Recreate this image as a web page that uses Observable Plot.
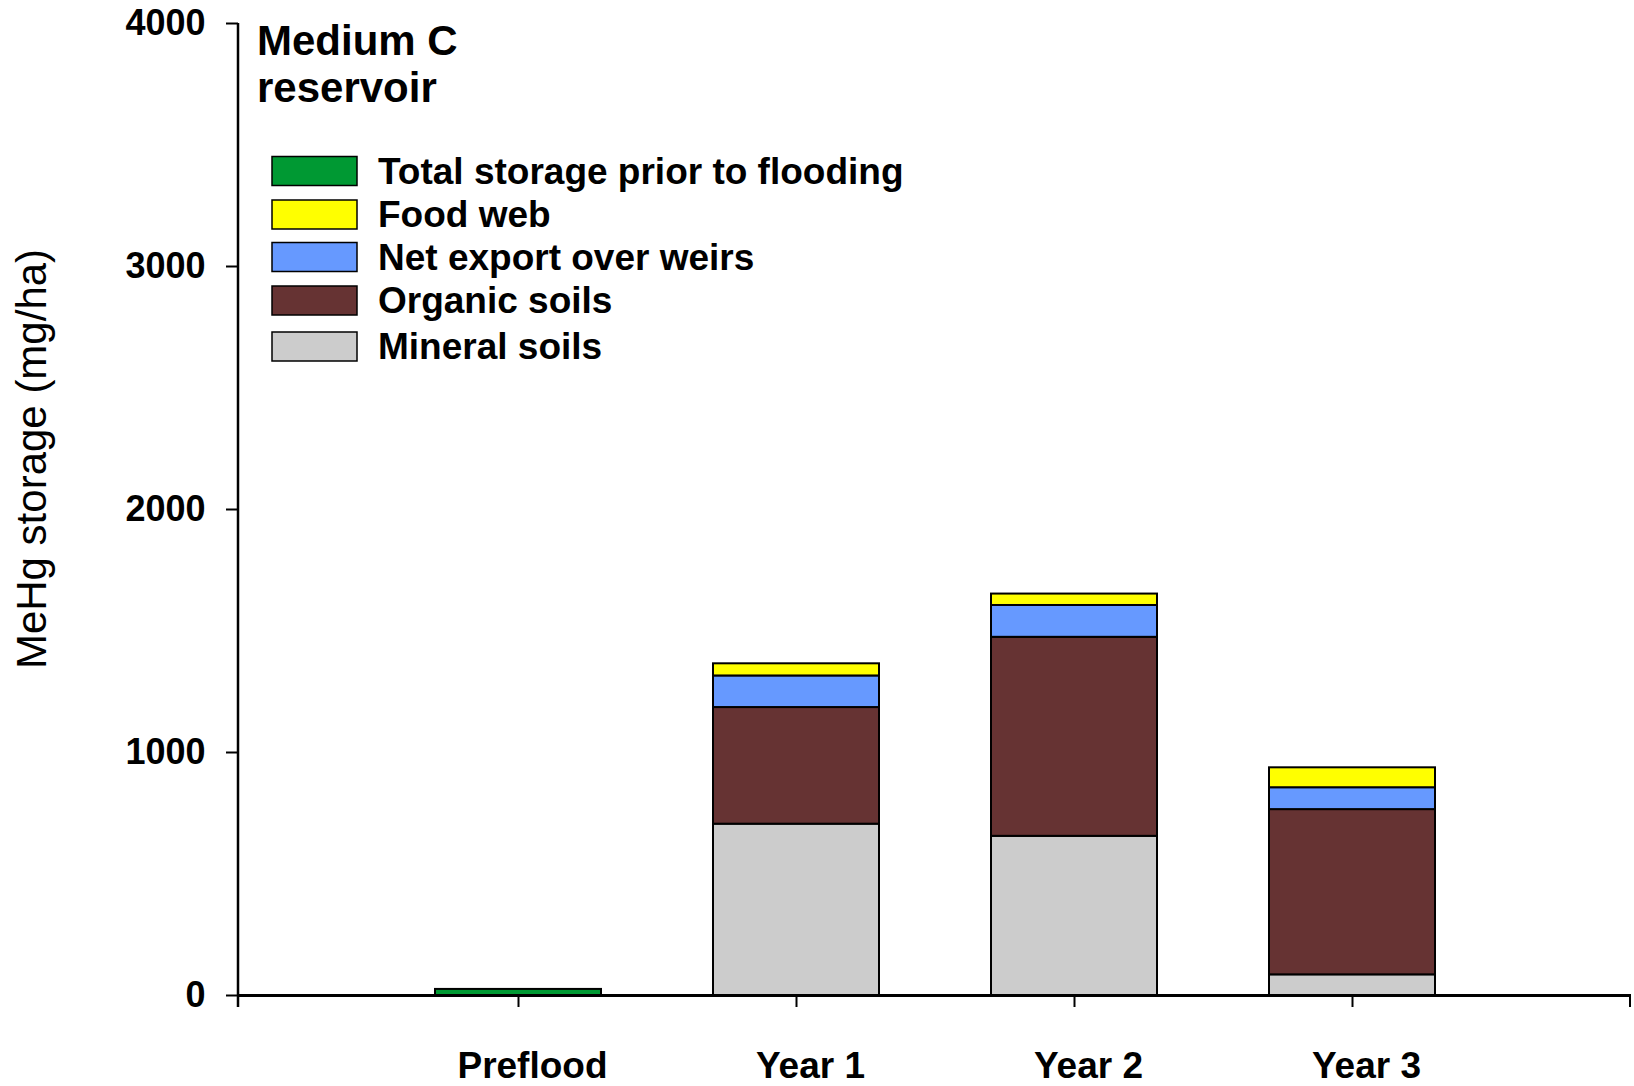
<!DOCTYPE html>
<html>
<head>
<meta charset="utf-8">
<script src="https://cdn.jsdelivr.net/npm/d3@7"></script>
<script src="https://cdn.jsdelivr.net/npm/@observablehq/plot@0.6"></script>
<style>
  html, body { margin: 0; padding: 0; background: #fff; }
  #chart { position: relative; width: 1634px; height: 1086px; }
</style>
</head>
<body>
<div id="chart"></div>
<script>
// ---- Data ----
const periods = ["Preflood", "Year 1", "Year 2", "Year 3"];
const components = ["Total storage prior to flooding", "Food web", "Net export over weirs", "Organic soils", "Mineral soils"];
const colors = ["#009933", "#FFFF00", "#6699FF", "#663333", "#CCCCCC"];
const priorTotal = [25, 0, 0, 0];
const mineralSoils = [0, 705, 655, 85];
const organicSoils = [0, 480, 819, 680];
const netExport = [0, 130, 131, 90];
const foodWeb = [0, 50, 47, 82];
const yTicks = [0, 1000, 2000, 3000, 4000];
const yLabel = "MeHg storage (mg/ha)";
const titleLines = ["Medium C", "reservoir"];

// Stack order: bottom to top
const series = [
  ["Mineral soils", mineralSoils],
  ["Organic soils", organicSoils],
  ["Net export over weirs", netExport],
  ["Food web", foodWeb],
  ["Total storage prior to flooding", priorTotal]
];
const data = [];
for (const [name, vals] of series) {
  periods.forEach((p, i) => { if (vals[i] > 0) data.push({period: p, component: name, value: vals[i]}); });
}

const font = "'Liberation Sans', Arial, Helvetica, sans-serif";

const plot = Plot.plot({
  width: 1634,
  height: 1086,
  marginLeft: 238,
  marginRight: 3,
  marginTop: 23,
  marginBottom: 91,
  style: {fontFamily: font, background: "white", color: "black"},
  x: {type: "band", domain: periods, paddingInner: 0.404, paddingOuter: 0.702},
  y: {domain: [0, 4000]},
  color: {domain: components, range: colors},
  marks: [
    Plot.barY(data, {x: "period", y: "value", fill: "component", stroke: "black", strokeWidth: 2}),
    Plot.ruleY([0], {stroke: "black", strokeWidth: 3}),
    Plot.axisY({ticks: yTicks, tickSize: 12, tickPadding: 21, tickFormat: d => String(d),
      fontSize: 36, fontWeight: "bold", label: null, strokeWidth: 2}),
    // tick marks centred under the bars
    Plot.axisX({tickSize: 12, text: null, label: null, strokeWidth: 2}),
    // labels set slightly right of the ticks, as in the reference
    Plot.axisX({tickSize: 0, tickPadding: 56, fontSize: 37, fontWeight: "bold", dx: 14, label: null})
  ]
});

document.getElementById("chart").appendChild(plot);

// ---- Decorations derived from the library's scales ----
const svg = d3.select(plot);
const xs = plot.scale("x"), ys = plot.scale("y");
const x0 = xs.range[0], x1 = xs.range[1];
const yTop = ys.apply(4000), yBase = ys.apply(0);

// y axis line (extends past the base like an edge tick)
svg.append("line").attr("x1", x0).attr("x2", x0).attr("y1", yTop).attr("y2", yBase + 12)
  .attr("stroke", "black").attr("stroke-width", 2.5);
// right end tick of the x axis
svg.append("line").attr("x1", x1 - 1).attr("x2", x1 - 1).attr("y1", yBase).attr("y2", yBase + 12)
  .attr("stroke", "black").attr("stroke-width", 2);

// y axis title
svg.append("text")
  .attr("transform", `translate(46, 459) rotate(-90)`)
  .attr("text-anchor", "middle")
  .attr("font-family", font).attr("font-size", 42).attr("fill", "black")
  .text(yLabel);

// panel title
const title = svg.append("text").attr("font-family", font).attr("font-size", 42)
  .attr("font-weight", "bold").attr("fill", "black").attr("text-anchor", "start");
titleLines.forEach((t, i) => {
  title.append("tspan").attr("x", 257).attr("y", 55 + i * 47).text(t);
});

// legend
const legendRows = [171, 214.5, 257, 300.5, 346.5];
const leg = svg.append("g").attr("text-anchor", "start");
components.forEach((c, i) => {
  const cy = legendRows[i];
  leg.append("rect").attr("x", 272).attr("y", cy - 14.5).attr("width", 85).attr("height", 29)
    .attr("fill", colors[i]).attr("stroke", "black").attr("stroke-width", 1.5);
  leg.append("text").attr("x", 378).attr("y", cy).attr("dy", "0.34em")
    .attr("text-anchor", "start")
    .attr("font-family", font).attr("font-size", 37).attr("font-weight", "bold").attr("fill", "black")
    .text(c);
});
</script>
</body>
</html>
